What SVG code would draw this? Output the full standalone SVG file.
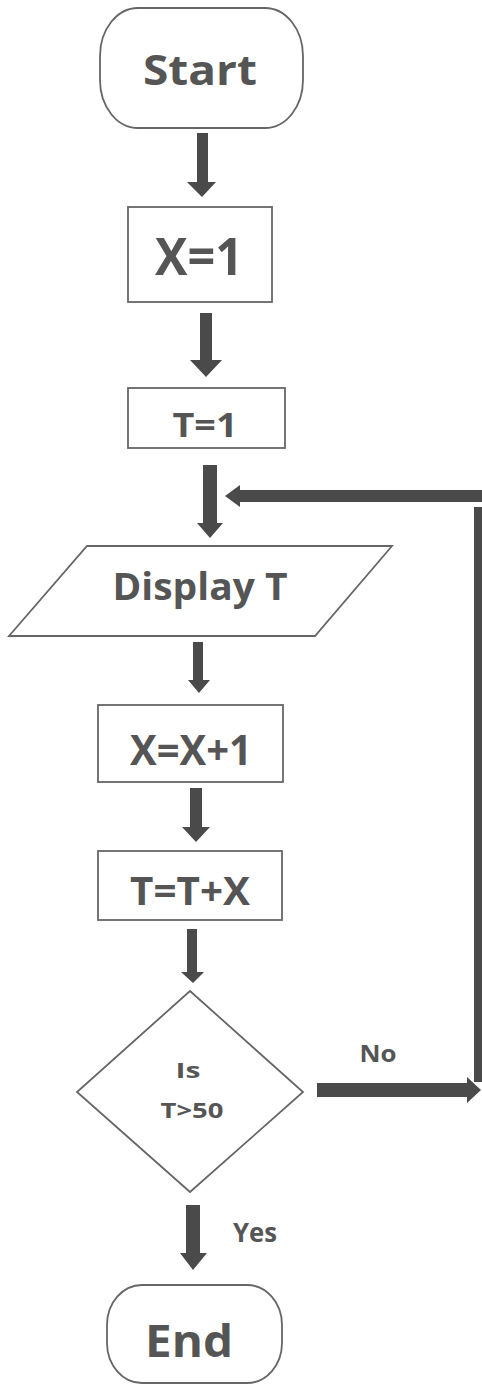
<svg xmlns="http://www.w3.org/2000/svg" width="482" height="1386" viewBox="0 0 482 1386">
<style>
.shape{fill:#fff;stroke:#666;stroke-width:1.8}
.t{font-family:"Open Sans","Liberation Sans",sans-serif;font-weight:bold;fill:#555;text-anchor:middle}
.arr{fill:#4a4a4a}
</style>
<rect width="482" height="1386" fill="#fff"/>
<g id="connectors">
<path class="arr" d="M197,133 H208 V182 H216 L202,197 L187,182 H197 Z"/>
<path class="arr" d="M200,313 H212 V360 H222 L206,377 L190,360 H200 Z"/>
<path class="arr" d="M203,465 H217 V523 H223 L210,538 L197,523 H203 Z"/>
<path class="arr" d="M486,490 V502 H240 V507 L225,496 L240,485 V490 Z"/>
<rect class="arr" x="474" y="507" width="12" height="575"/>
<path class="arr" d="M193,642 H203 V680 H210 L199,693 L188,680 H193 Z"/>
<path class="arr" d="M190,788 H202 V827 H210 L196,842 L182,827 H190 Z"/>
<path class="arr" d="M187,929 H197 V972 H204 L193,983 L181,972 H187 Z"/>
<path class="arr" d="M317,1083 H467 V1077 L481,1090 L467,1103 V1097 H317 Z"/>
<path class="arr" d="M186,1205 H200 V1253 H207 L193,1270 L180,1253 H186 Z"/>
<text class="t" x="378" y="1062" font-size="24" textLength="37" lengthAdjust="spacingAndGlyphs">No</text>
<text class="t" x="255" y="1242" font-size="26" textLength="44" lengthAdjust="spacingAndGlyphs">Yes</text>
</g>
<g id="start">
<rect class="shape" x="100" y="8" width="203" height="120" rx="38" ry="48"/>
<text class="t" x="200" y="85" font-size="42" textLength="114" lengthAdjust="spacingAndGlyphs">Start</text>
</g>
<g id="x1">
<rect class="shape" x="128" y="207" width="144" height="95"/>
<text class="t" x="199" y="275" font-size="52" textLength="88" lengthAdjust="spacingAndGlyphs">X=1</text>
</g>
<g id="t1">
<rect class="shape" x="128" y="388" width="157" height="60"/>
<text class="t" x="205" y="437" font-size="34" textLength="65" lengthAdjust="spacingAndGlyphs">T=1</text>
</g>
<g id="display">
<polygon class="shape" points="87,546 392,546 315,636 9,636"/>
<text class="t" x="200" y="600" font-size="38" textLength="175" lengthAdjust="spacingAndGlyphs">Display T</text>
</g>
<g id="xinc">
<rect class="shape" x="98" y="705" width="185" height="77"/>
<text class="t" x="191" y="765" font-size="42" textLength="122" lengthAdjust="spacingAndGlyphs">X=X+1</text>
</g>
<g id="tinc">
<rect class="shape" x="98" y="851" width="184" height="69"/>
<text class="t" x="190" y="905" font-size="39" textLength="120" lengthAdjust="spacingAndGlyphs">T=T+X</text>
</g>
<g id="decision">
<polygon class="shape" points="190,991 303,1092 190,1192 77,1092"/>
<text class="t" x="188" y="1078" font-size="21" textLength="25" lengthAdjust="spacingAndGlyphs">Is</text>
<text class="t" x="192" y="1118" font-size="22" textLength="63" lengthAdjust="spacingAndGlyphs">T&gt;50</text>
</g>
<g id="end">
<rect class="shape" x="107" y="1285" width="175" height="98" rx="35" ry="40"/>
<text class="t" x="189" y="1357" font-size="44" textLength="88" lengthAdjust="spacingAndGlyphs">End</text>
</g>
</svg>
